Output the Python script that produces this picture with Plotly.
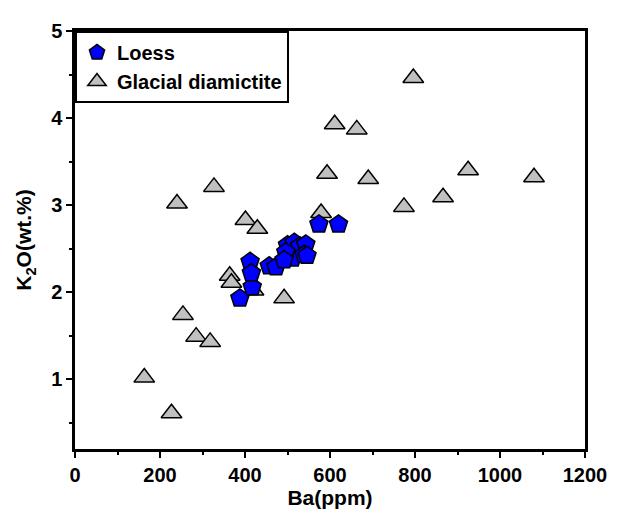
import plotly.graph_objects as go

loess_ba = [388, 417, 412, 415, 457, 473, 500, 516, 529, 543, 512, 539, 496, 492, 546, 574, 620]
loess_k2o = [1.93, 2.06, 2.35, 2.22, 2.30, 2.29, 2.54, 2.57, 2.53, 2.55, 2.39, 2.43, 2.46, 2.37, 2.42, 2.78, 2.78]

glacial_ba = [163, 227, 254, 285, 318, 492, 364, 368, 420, 240, 327, 401, 429, 579, 593, 611, 663, 796, 690, 774, 866, 925, 1080]
glacial_k2o = [1.02, 0.61, 1.74, 1.49, 1.43, 1.93, 2.19, 2.11, 2.02, 3.02, 3.21, 2.83, 2.73, 2.91, 3.36, 3.93, 3.87, 4.46, 3.30, 2.98, 3.09, 3.40, 3.32]

x_ticks = [0, 200, 400, 600, 800, 1000, 1200]
y_ticks = [1, 2, 3, 4, 5]

fig = go.Figure()
fig.add_trace(go.Scatter(
    x=glacial_ba, y=glacial_k2o, mode="markers", name="<b>Glacial diamictite</b>",
    marker=dict(symbol="triangle-up", size=18, color="#C0C0C0",
                line=dict(color="black", width=1.5)),
))
fig.add_trace(go.Scatter(
    x=loess_ba, y=loess_k2o, mode="markers", name="<b>Loess</b>",
    marker=dict(symbol="pentagon", size=19, color="#0000FF",
                line=dict(color="black", width=1.5)),
))

font_family = "Liberation Sans, Arial, sans-serif"

fig.update_layout(
    width=611, height=508,
    margin=dict(l=67, r=28, t=14, b=63),
    paper_bgcolor="white", plot_bgcolor="white",
    font=dict(family=font_family, color="black", size=20),
    showlegend=True,
    legend=dict(
        x=0.0, y=1.0, xanchor="left", yanchor="top",
        bordercolor="black", borderwidth=2, bgcolor="white",
        font=dict(size=20, family=font_family, color="black"),
        traceorder="reversed", itemsizing="trace",
        tracegroupgap=0, itemwidth=30,
    ),
)

fig.update_xaxes(
    range=[0, 1200], tickmode="array", tickvals=x_ticks,
    ticktext=["<b>%d</b>" % v for v in x_ticks],
    showgrid=False, zeroline=False,
    showline=True, linecolor="black", linewidth=2.5, mirror=True,
    ticks="outside", ticklen=6, tickwidth=2, tickcolor="black",
    minor=dict(dtick=100, ticks="outside", ticklen=3, tickwidth=2, tickcolor="black"),
    tickfont=dict(size=20, family=font_family, color="black"),
    title=dict(text="<b>Ba(ppm)</b>", font=dict(size=21, family=font_family, color="black"), standoff=4),
)
fig.update_yaxes(
    range=[0.2, 5], tickmode="array", tickvals=y_ticks,
    ticktext=["<b>%d</b>" % v for v in y_ticks],
    showgrid=False, zeroline=False,
    showline=True, linecolor="black", linewidth=2.5, mirror=True,
    ticks="outside", ticklen=6, tickwidth=2, tickcolor="black",
    minor=dict(dtick=0.5, tick0=0, ticks="outside", ticklen=3, tickwidth=2, tickcolor="black"),
    tickfont=dict(size=20, family=font_family, color="black"),
    title=dict(text="<b>K<sub>2</sub>O(wt.%)</b>", font=dict(size=21, family=font_family, color="black"), standoff=14),
)

fig.write_html("out.html")
